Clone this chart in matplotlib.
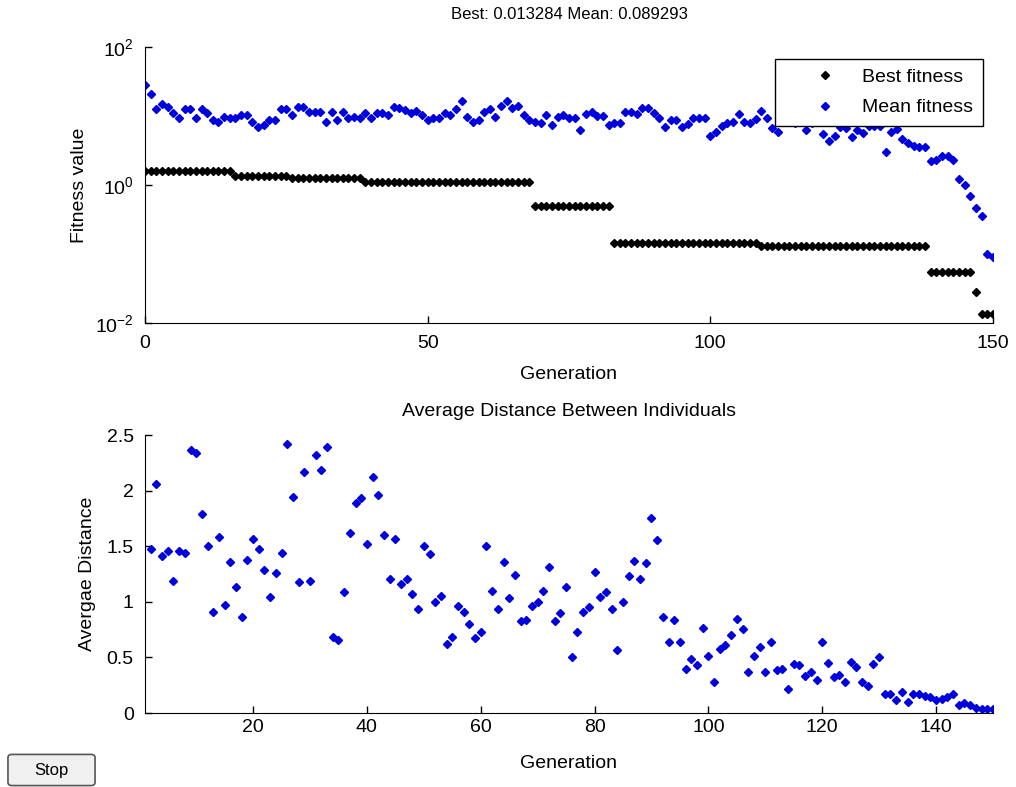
import numpy as np
import matplotlib
matplotlib.use('Agg')
import matplotlib.pyplot as plt
from matplotlib.patches import FancyBboxPatch

matplotlib.rcParams['font.family'] = ['Liberation Sans', 'DejaVu Sans']
matplotlib.rcParams['font.size'] = 14
matplotlib.rcParams['mathtext.fontset'] = 'custom'
matplotlib.rcParams['mathtext.rm'] = 'Liberation Sans'

# fitness per generation (0..150)
best_fitness = [
    1.6, 1.6, 1.6, 1.6, 1.6, 1.6, 1.6, 1.6, 1.6, 1.6,
    1.6, 1.6, 1.6, 1.6, 1.6, 1.6, 1.35, 1.35, 1.35, 1.35,
    1.35, 1.35, 1.35, 1.35, 1.35, 1.35, 1.27, 1.27, 1.27, 1.27,
    1.27, 1.27, 1.27, 1.27, 1.27, 1.27, 1.27, 1.27, 1.27, 1.1,
    1.1, 1.1, 1.1, 1.1, 1.1, 1.1, 1.1, 1.1, 1.1, 1.1,
    1.1, 1.1, 1.1, 1.1, 1.1, 1.1, 1.1, 1.1, 1.1, 1.1,
    1.1, 1.1, 1.1, 1.1, 1.1, 1.1, 1.1, 1.1, 1.1, 0.5,
    0.5, 0.5, 0.5, 0.5, 0.5, 0.5, 0.5, 0.5, 0.5, 0.5,
    0.5, 0.5, 0.5, 0.144, 0.144, 0.144, 0.144, 0.144, 0.144, 0.144,
    0.144, 0.144, 0.144, 0.144, 0.144, 0.144, 0.144, 0.144, 0.144, 0.144,
    0.144, 0.144, 0.144, 0.144, 0.144, 0.144, 0.144, 0.144, 0.144, 0.131,
    0.131, 0.131, 0.131, 0.131, 0.131, 0.131, 0.131, 0.131, 0.131, 0.131,
    0.131, 0.131, 0.131, 0.131, 0.131, 0.131, 0.131, 0.131, 0.131, 0.131,
    0.131, 0.131, 0.131, 0.131, 0.131, 0.131, 0.131, 0.131, 0.131, 0.055,
    0.055, 0.055, 0.055, 0.055, 0.055, 0.055, 0.055, 0.028, 0.013284, 0.013284,
    0.013284,
]
mean_fitness = [
    28.2, 20.9, 12.6, 14.8, 13.5, 11.2, 9.3, 12.6, 12.6, 9.3,
    12.6, 11.2, 8.7, 8.1, 9.8, 9.3, 9.5, 10.2, 10.5, 8.3,
    6.9, 7.4, 8.7, 8.7, 12.6, 12.6, 10.2, 13.5, 13.5, 11.5,
    11.5, 11.5, 8.1, 11.5, 8.7, 11.5, 9.3, 9.6, 9.5, 11.2,
    9.3, 11.2, 11.2, 10.5, 13.5, 13.2, 12.3, 11.0, 12.0, 10.5,
    8.7, 9.3, 9.3, 11.2, 10.5, 12.6, 16.6, 9.8, 8.1, 8.7,
    11.5, 12.6, 9.8, 13.8, 16.6, 12.9, 13.8, 10.5, 8.7, 8.1,
    7.8, 10.5, 7.4, 9.8, 10.5, 9.5, 9.3, 6.2, 10.7, 11.5,
    10.0, 10.0, 7.4, 7.8, 7.8, 11.5, 11.5, 10.7, 12.9, 13.2,
    11.2, 9.3, 6.9, 8.7, 8.7, 6.9, 7.6, 9.3, 9.3, 9.3,
    5.1, 5.9, 7.1, 7.8, 8.1, 10.7, 8.1, 7.8, 8.9, 12.0,
    9.3, 6.6, 5.9, 8.5, 9.0, 8.0, 8.5, 6.3, 8.0, 8.5,
    5.5, 4.4, 5.1, 6.9, 6.6, 4.9, 6.3, 5.6, 7.2, 7.2,
    7.2, 3.0, 5.8, 6.5, 4.6, 4.1, 3.7, 3.5, 3.5, 2.2,
    2.3, 2.6, 2.6, 2.3, 1.22, 1.0, 0.70, 0.46, 0.35, 0.10,
    0.0893,
]

# average distance per generation (2..150)
avg_distance = [
    1.475, 2.06, 1.41, 1.46, 1.19, 1.46, 1.44, 2.37,
    2.34, 1.79, 1.50, 0.905, 1.585, 0.97, 1.36, 1.13, 0.86, 1.38,
    1.565, 1.475, 1.29, 1.046, 1.256, 1.44, 2.42, 1.945, 1.175, 2.165,
    1.19, 2.32, 2.185, 2.39, 0.686, 0.656, 1.085, 1.616, 1.886, 1.93,
    1.52, 2.12, 1.96, 1.60, 1.205, 1.565, 1.16, 1.205, 1.07, 0.94,
    1.50, 1.43, 1.00, 1.05, 0.62, 0.686, 0.962, 0.905, 0.80, 0.672,
    0.726, 1.50, 1.097, 0.935, 1.36, 1.03, 1.24, 0.83, 0.84, 0.965,
    1.00, 1.097, 1.316, 0.83, 0.896, 1.13, 0.50, 0.73, 0.905, 0.956,
    1.265, 1.045, 1.085, 0.935, 0.567, 1.00, 1.235, 1.367, 1.205, 1.346,
    1.756, 1.556, 0.86, 0.64, 0.84, 0.64, 0.40, 0.483, 0.43, 0.767,
    0.515, 0.276, 0.576, 0.61, 0.70, 0.845, 0.753, 0.37, 0.515, 0.59,
    0.37, 0.64, 0.39, 0.40, 0.213, 0.438, 0.43, 0.335, 0.37, 0.297,
    0.64, 0.452, 0.326, 0.34, 0.276, 0.46, 0.416, 0.28, 0.246, 0.445,
    0.50, 0.168, 0.168, 0.117, 0.186, 0.10, 0.17, 0.17, 0.153, 0.14,
    0.117, 0.13, 0.145, 0.17, 0.072, 0.087, 0.072, 0.042, 0.033, 0.033,
    0.033,
]

gen_fit = np.arange(len(best_fitness))
gen_dist = np.arange(2, 2 + len(avg_distance))

fig = plt.figure(figsize=(10.16, 7.87), dpi=100, facecolor='white')

def matlab_axes(ax, xpad):
    for s in ['top', 'right']:
        ax.spines[s].set_visible(False)
    ax.tick_params(direction='in', length=5, width=1, which='major')
    ax.tick_params(axis='x', pad=xpad)
    ax.tick_params(axis='y', pad=8)
    ax.tick_params(which='minor', length=0)

# 上图：适应度
ax1 = fig.add_axes([0.1427, 0.5896, 0.8346, 0.3507])
matlab_axes(ax1, 9)
ax1.plot(gen_fit, best_fitness, 'D', color='black', markersize=4.5, label='Best fitness')
ax1.plot(gen_fit, mean_fitness, 'D', color='#0000dd', markersize=4.5, label='Mean fitness')
ax1.set_yscale('log')
ax1.set_xlim(0, 150)
ax1.set_ylim(1e-2, 1e2)
ax1.set_xticks([0, 50, 100, 150])
ax1.set_yticks([1e-2, 1e0, 1e2])
ax1.yaxis.set_minor_locator(matplotlib.ticker.NullLocator())
ax1.set_xlabel('Generation', labelpad=10)
ax1.set_ylabel('Fitness value', labelpad=5)
ax1.set_title('Best: 0.013284 Mean: 0.089293', fontsize=12, pad=20)
leg = ax1.legend(loc='upper right', bbox_to_anchor=(0.988, 0.957), fancybox=False,
                 edgecolor='black', framealpha=1, fontsize=14, handlelength=4.2,
                 handletextpad=-0.2, borderpad=0.5, labelspacing=0.65, borderaxespad=0)
leg.get_frame().set_linewidth(1)

# 下图：平均距离
ax2 = fig.add_axes([0.1427, 0.094, 0.8346, 0.3532])
matlab_axes(ax2, 4)
ax2.plot(gen_dist, avg_distance, 'D', color='#0000dd', markersize=4.5)
ax2.set_xlim(1, 150)
ax2.set_ylim(0, 2.5)
ax2.set_xticks([20, 40, 60, 80, 100, 120, 140])
ax2.set_yticks([0, 0.5, 1, 1.5, 2, 2.5])
ax2.set_yticklabels(['0', '0.5', '1', '1.5', '2', '2.5'])
ax2.set_xlabel('Generation', labelpad=14)
ax2.set_ylabel('Avergae Distance', labelpad=8)
ax2.set_title('Average Distance Between Individuals', fontsize=14, pad=14)

# Stop 按钮
btn = FancyBboxPatch((10 / 1016, 1 - 784 / 787), 83 / 1016, 28 / 787,
                     boxstyle='round,pad=0.002,rounding_size=0.004',
                     transform=fig.transFigure, facecolor='#f0f0f0',
                     edgecolor='#555555', linewidth=1.2)
fig.patches.append(btn)
fig.text(51 / 1016, 1 - 770 / 787, 'Stop', ha='center', va='center', fontsize=12)

fig.savefig('out.png', dpi=100)
